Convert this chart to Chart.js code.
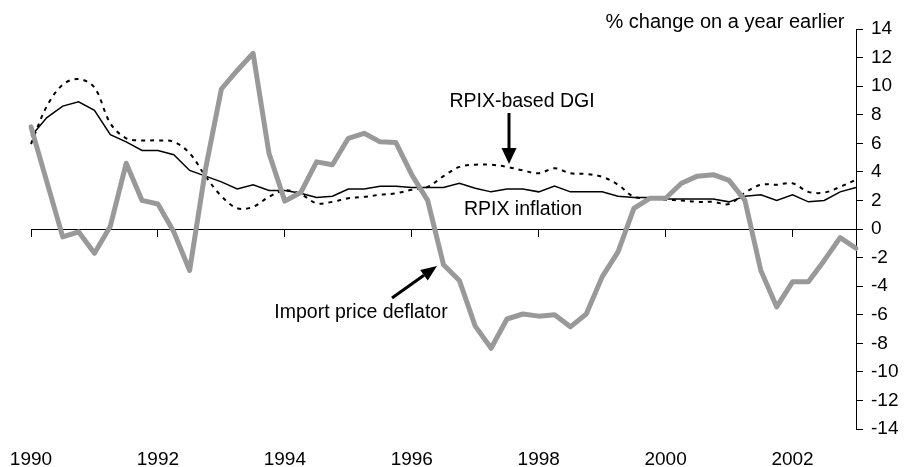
<!DOCTYPE html>
<html>
<head>
<meta charset="utf-8">
<script src="https://cdn.jsdelivr.net/npm/chart.js@4/dist/chart.umd.min.js"></script>
<style>
  body { margin: 0; background: #fff; }
  #wrap { width: 906px; height: 467px; position: relative; }
</style>
</head>
<body>
<div id="wrap"><canvas id="chart"></canvas></div>
<script>
// quarterly, 1990 Q1 .. 2003 Q1
const startYear = 1990;
const nQuarters = 53;
const quarters = [];
for (let i = 0; i < nQuarters; i++) {
    quarters.push((startYear + Math.floor(i / 4)) + ' Q' + (i % 4 + 1));
}

const rpixInflation = [6.5, 7.8, 8.6, 8.9, 8.3, 6.6, 6.1, 5.5, 5.5, 5.2, 4.1, 3.7, 3.3, 2.8, 3.1, 2.7,
    2.7, 2.5, 2.2, 2.3, 2.8, 2.8, 3.0, 3.0, 2.9, 2.9, 2.9, 3.2, 2.85, 2.6, 2.8, 2.8,
    2.6, 3.0, 2.6, 2.6, 2.6, 2.3, 2.2, 2.2, 2.1, 2.1, 2.1, 2.1, 1.9, 2.3, 2.4, 2.0,
    2.4, 1.9, 2.0, 2.6, 2.9];

const rpixDgi = [5.95, 8.6, 10.1, 10.5, 9.9, 7.4, 6.35, 6.2, 6.2, 6.1, 5.3, 3.7, 2.3, 1.45, 1.55, 2.25,
    2.7, 2.45, 1.8, 1.9, 2.15, 2.25, 2.4, 2.5, 2.75, 2.95, 3.7, 4.35, 4.5, 4.5, 4.35, 4.1,
    3.9, 4.25, 3.9, 3.85, 3.65, 3.1, 2.25, 2.15, 2.05, 2.0, 1.9, 1.9, 1.75, 2.55, 3.1, 3.1,
    3.2, 2.6, 2.55, 2.95, 3.45];

const importDeflator = [7.15, 3.3, -0.55, -0.2, -1.7, 0.2, 4.6, 2.0, 1.75, -0.2, -2.9, 4.2, 9.8, 11.1, 12.3, 5.3,
    1.95, 2.55, 4.7, 4.5, 6.35, 6.7, 6.1, 6.05, 3.8, 2.0, -2.5, -3.6, -6.8, -8.35, -6.3, -5.95,
    -6.1, -6.0, -6.85, -5.95, -3.35, -1.6, 1.45, 2.15, 2.15, 3.2, 3.7, 3.8, 3.4, 2.0, -2.9, -5.45,
    -3.7, -3.7, -2.2, -0.6, -1.35];

const yMin = -14, yMax = 14, yStep = 2;
const FONT = '"Liberation Sans", Arial, sans-serif';

function arrow(ctx, x1, y1, x2, y2, head, width) {
    const a = Math.atan2(y2 - y1, x2 - x1);
    const bx = x2 - head * Math.cos(a), by = y2 - head * Math.sin(a);
    ctx.beginPath();
    ctx.moveTo(x1, y1);
    ctx.lineTo(bx, by);
    ctx.lineWidth = 3;
    ctx.stroke();
    ctx.beginPath();
    ctx.moveTo(x2, y2);
    ctx.lineTo(bx + width / 2 * Math.sin(a), by - width / 2 * Math.cos(a));
    ctx.lineTo(bx - width / 2 * Math.sin(a), by + width / 2 * Math.cos(a));
    ctx.closePath();
    ctx.fill();
}

const notes = {
    id: 'notes',
    afterDraw(chart) {
        const ctx = chart.ctx;
        ctx.save();
        ctx.fillStyle = '#000';
        ctx.strokeStyle = '#000';
        ctx.textAlign = 'center';
        ctx.textBaseline = 'middle';
        ctx.font = '20px ' + FONT;
        ctx.fillText('% change on a year earlier', 725, 22);
        ctx.font = '19.5px ' + FONT;
        ctx.fillText('RPIX-based DGI', 522, 102);
        ctx.fillText('RPIX inflation', 523, 210);
        ctx.fillText('Import price deflator', 361, 313);
        arrow(ctx, 509, 113, 509, 164, 16, 15);
        arrow(ctx, 392, 298, 437, 266, 16, 13);
        ctx.restore();
    }
};

new Chart(document.getElementById('chart'), {
    type: 'line',
    data: {
        labels: quarters,
        datasets: [
            {
                label: 'Import price deflator',
                data: importDeflator,
                borderColor: '#999999',
                borderWidth: 5,
                borderJoinStyle: 'round',
                borderCapStyle: 'round',
                pointRadius: 0,
                order: 0
            },
            {
                label: 'RPIX inflation',
                data: rpixInflation,
                borderColor: '#000',
                borderWidth: 1.5,
                pointRadius: 0,
                order: 1
            },
            {
                label: 'RPIX-based DGI',
                data: rpixDgi,
                borderColor: '#000',
                borderWidth: 2,
                borderDash: [4, 5],
                tension: 0.35,
                pointRadius: 0,
                order: 2
            }
        ]
    },
    options: {
        responsive: true,
        maintainAspectRatio: false,
        animation: false,
        layout: { padding: { top: 29, left: 31, right: 0, bottom: 0 } },
        plugins: {
            legend: { display: false },
            tooltip: { enabled: false }
        },
        scales: {
            x: {
                type: 'category',
                position: { y: 0 },
                offset: false,
                ticks: { display: false, autoSkip: false },
                grid: {
                    drawOnChartArea: false,
                    tickLength: 7,
                    tickColor: c => (c.index % 8 === 0 ? '#000' : 'rgba(0,0,0,0)')
                },
                border: { display: true, color: '#000', width: 1 }
            },
            x2: {
                type: 'category',
                position: 'bottom',
                offset: false,
                grid: { display: false },
                border: { display: false },
                ticks: {
                    autoSkip: false,
                    maxRotation: 0,
                    padding: 13,
                    color: '#000',
                    font: { family: FONT, size: 19, lineHeight: 1 },
                    callback: (v, i) => (i % 8 === 0 ? quarters[i].slice(0, 4) : null)
                },
                afterFit: s => { s.height = 38; s.paddingLeft = 0; s.paddingRight = 0; }
            },
            y: {
                position: 'right',
                min: yMin,
                max: yMax,
                ticks: {
                    stepSize: yStep,
                    padding: 8,
                    color: '#000',
                    font: { family: FONT, size: 19 }
                },
                grid: { drawOnChartArea: false, tickLength: 7, tickColor: '#000' },
                border: { display: true, color: '#000', width: 1 },
                afterFit: s => { s.width = 50; }
            }
        }
    },
    plugins: [notes]
});
</script>
</body>
</html>
